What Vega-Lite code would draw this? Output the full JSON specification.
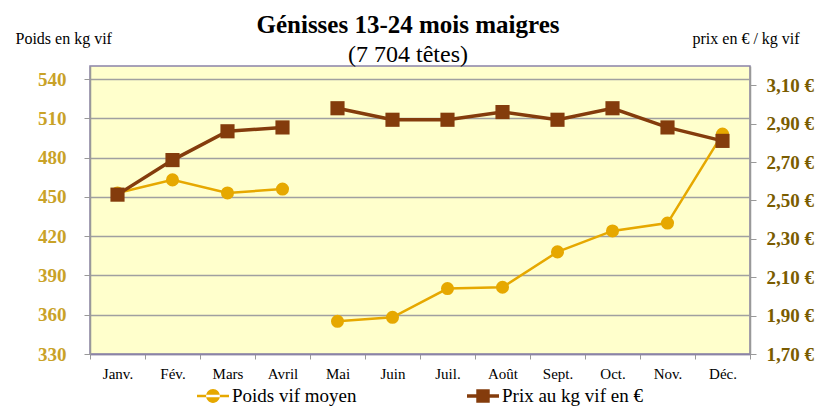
{
  "$schema": "https://vega.github.io/schema/vega-lite/v6.json",
  "autosize": "none",
  "padding": {"left": 90, "top": 66, "right": 66, "bottom": 52},
  "width": 660,
  "height": 288,
  "background": "white",
  "title": {
    "text": "Génisses 13-24 mois maigres",
    "subtitle": "(7 704 têtes)",
    "font": "Times New Roman",
    "fontSize": 25,
    "fontWeight": "bold",
    "color": "black",
    "subtitleFont": "Times New Roman",
    "subtitleFontSize": 24,
    "subtitleColor": "black",
    "subtitlePadding": 5,
    "anchor": "middle",
    "frame": "group",
    "dx": -12,
    "offset": -37
  },
  "data": {
    "values": [
      {"mois": "Janv.", "periode": "A", "poids": 453, "prix": 2.53},
      {"mois": "Fév.", "periode": "A", "poids": 463, "prix": 2.71},
      {"mois": "Mars", "periode": "A", "poids": 453, "prix": 2.86},
      {"mois": "Avril", "periode": "A", "poids": 456, "prix": 2.88},
      {"mois": "Mai", "periode": "B", "poids": 355, "prix": 2.98},
      {"mois": "Juin", "periode": "B", "poids": 358, "prix": 2.92},
      {"mois": "Juil.", "periode": "B", "poids": 380, "prix": 2.92},
      {"mois": "Août", "periode": "B", "poids": 381, "prix": 2.96},
      {"mois": "Sept.", "periode": "B", "poids": 408, "prix": 2.92},
      {"mois": "Oct.", "periode": "B", "poids": 424, "prix": 2.98},
      {"mois": "Nov.", "periode": "B", "poids": 430, "prix": 2.88},
      {"mois": "Déc.", "periode": "B", "poids": 498, "prix": 2.81}
    ]
  },
  "encoding": {
    "x": {
      "field": "mois",
      "type": "nominal",
      "sort": null,
      "scale": {"paddingInner": 0, "paddingOuter": 0},
      "axis": {
        "title": null,
        "labelAngle": 0,
        "labelFont": "Times New Roman",
        "labelFontSize": 15,
        "labelColor": "black",
        "labelPadding": 7,
        "tickBand": "extent",
        "tickSize": 5,
        "tickColor": "#999999",
        "domainColor": "#8B82A8",
        "domainWidth": 1.5,
        "grid": false
      }
    }
  },
  "layer": [
    {
      "encoding": {
        "y": {
          "field": "poids",
          "type": "quantitative",
          "scale": {"domain": [330, 550], "nice": false, "zero": false},
          "axis": {
            "values": [330, 360, 390, 420, 450, 480, 510, 540],
            "title": "Poids en kg vif",
            "titleFont": "Times New Roman",
            "titleFontSize": 16,
            "titleFontWeight": "normal",
            "titleColor": "black",
            "titleAngle": 0,
            "titleAlign": "left",
            "titleBaseline": "middle",
            "titleX": -75,
            "titleY": -28,
            "labelFont": "Times New Roman",
            "labelFontSize": 19,
            "labelFontWeight": "bold",
            "labelColor": "#C9A227",
            "labelPadding": 18,
            "tickSize": 6,
            "tickColor": "#999999",
            "domainColor": "#999999",
            "domainWidth": 1.5,
            "grid": true,
            "gridColor": "#A0A0A0",
            "gridWidth": 1.5
          }
        },
        "color": {
          "datum": "Poids vif moyen",
          "legend": {
            "orient": "none",
            "legendX": 107,
            "legendY": 314,
            "direction": "horizontal",
            "title": null,
            "labelFont": "Times New Roman",
            "labelFontSize": 19,
            "labelColor": "black",
            "labelOffset": 3,
            "columnPadding": 110,
            "symbolSize": 1024,
            "symbolStrokeWidth": 0,
            "padding": 0,
            "encode": {
              "symbols": {
                "update": {
                  "shape": {"signal": "datum.value === 'Poids vif moyen' ? 'M-1,-0.08L1,-0.08L1,0.08L-1,0.08Z M-0.43,0A0.43,0.43 0 1,0 0.43,0A0.43,0.43 0 1,0 -0.43,0Z' : 'M-1,-0.11L1,-0.11L1,0.11L-1,0.11Z M-0.42,-0.42L0.42,-0.42L0.42,0.42L-0.42,0.42Z'"},
                  "fill": {"signal": "datum.value === 'Poids vif moyen' ? '#E6A800' : '#843C0C'"},
                  "strokeWidth": {"value": 0},
                  "opacity": {"value": 1}
                }
              }
            }
          }
        },
        "detail": {"field": "periode"}
      },
      "layer": [
        {"mark": {"type": "line", "strokeWidth": 2.5}},
        {"mark": {"type": "point", "shape": "circle", "filled": true, "opacity": 1, "size": 170}}
      ]
    },
    {
      "encoding": {
        "y": {
          "field": "prix",
          "type": "quantitative",
          "scale": {"domain": [1.7, 3.2], "nice": false, "zero": false},
          "axis": {
            "orient": "right",
            "values": [1.7, 1.9, 2.1, 2.3, 2.5, 2.7, 2.9, 3.1],
            "labelExpr": "replace(format(datum.value, '.2f'), '.', ',') + ' €'",
            "title": "prix en € / kg vif",
            "titleFont": "Times New Roman",
            "titleFontSize": 16,
            "titleFontWeight": "normal",
            "titleColor": "black",
            "titleAngle": 0,
            "titleAlign": "left",
            "titleBaseline": "middle",
            "titleX": -58,
            "titleY": -28,
            "labelFont": "Times New Roman",
            "labelFontSize": 19,
            "labelFontWeight": "bold",
            "labelColor": "#7A5C00",
            "labelPadding": 10,
            "tickSize": 6,
            "tickColor": "#999999",
            "domainColor": "#999999",
            "domainWidth": 1.5,
            "grid": false
          }
        },
        "color": {"datum": "Prix au kg vif en €"},
        "detail": {"field": "periode"}
      },
      "layer": [
        {"mark": {"type": "line", "strokeWidth": 3.5}},
        {"mark": {"type": "point", "shape": "square", "filled": true, "opacity": 1, "size": 200}}
      ]
    }
  ],
  "resolve": {"scale": {"y": "independent"}},
  "config": {
    "view": {"fill": "#FFFFCC", "stroke": "#8B82A8", "strokeWidth": 1.5},
    "range": {"category": ["#E6A800", "#843C0C"]}
  }
}
